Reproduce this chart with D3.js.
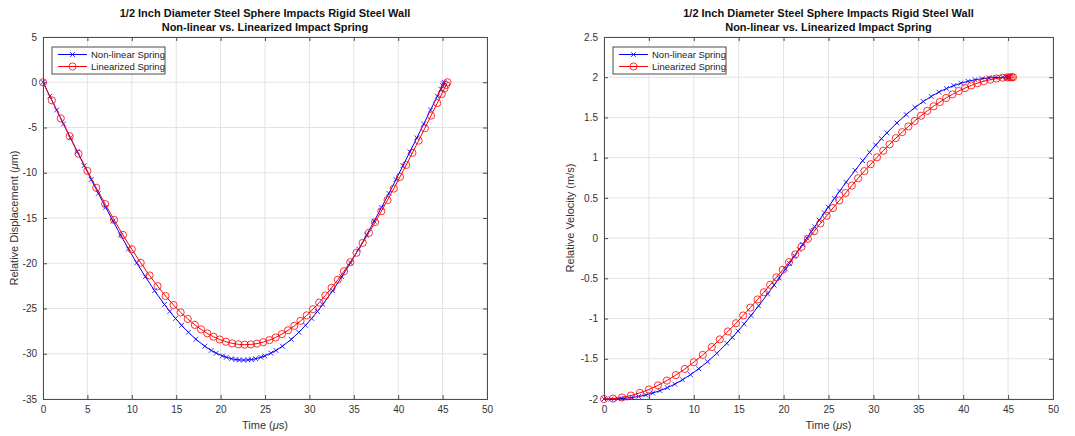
<!DOCTYPE html>
<html><head><meta charset="utf-8">
<script src="https://cdn.jsdelivr.net/npm/d3@7"></script>
<style>body{margin:0;background:#fff}svg{display:block}text{font-family:"Liberation Sans",Arial,Helvetica,sans-serif}</style>
</head><body>
<script>
// ---------- data ----------
const titleLines = ["1/2 Inch Diameter Steel Sphere Impacts Rigid Steel Wall", "Non-linear vs. Linearized Impact Spring"];
const seriesNames = ["Non-linear Spring", "Linearized Spring"];
const xTicks = [0,5,10,15,20,25,30,35,40,45,50];
const dispTicks = [5,0,-5,-10,-15,-20,-25,-30,-35];
const velTicks = [2.5,2,1.5,1,0.5,0,-0.5,-1,-1.5,-2];
const velTickLabels = ["2.5","2","1.5","1","0.5","0","-0.5","-1","-1.5","-2"];

// Non-linear spring (blue, x markers)
const tNonlinear = [0,0.77,1.54,2.31,3.08,3.86,4.64,5.43,6.23,7.05,7.89,8.74,9.63,10.55,11.53,12.56,13.68,14.28,14.92,15.61,16.37,17.22,18.22,18.94,19.51,20.21,20.65,21.22,21.72,22.10,22.59,23.08,23.46,23.96,24.53,24.97,25.67,26.24,26.96,27.96,28.81,29.57,30.26,30.90,31.50,32.62,33.65,34.63,35.55,36.44,37.29,38.13,38.95,39.75,40.54,41.32,42.10,42.87,43.64,44.41,44.80,45.00,45.10,45.18];
const dispNonlinear = [0,-1.54,-3.07,-4.61,-6.14,-7.68,-9.21,-10.75,-12.28,-13.82,-15.35,-16.89,-18.42,-19.96,-21.49,-23.03,-24.56,-25.33,-26.10,-26.86,-27.63,-28.40,-29.17,-29.63,-29.93,-30.24,-30.39,-30.55,-30.64,-30.68,-30.70,-30.68,-30.64,-30.55,-30.39,-30.24,-29.93,-29.63,-29.17,-28.40,-27.63,-26.86,-26.10,-25.33,-24.56,-23.03,-21.49,-19.96,-18.42,-16.89,-15.35,-13.82,-12.28,-10.75,-9.21,-7.68,-6.14,-4.61,-3.07,-1.54,-0.76,-0.36,-0.16,0];
const velNonlinear = [-2,-1.999,-1.997,-1.991,-1.982,-1.969,-1.950,-1.926,-1.896,-1.859,-1.815,-1.761,-1.698,-1.624,-1.536,-1.432,-1.308,-1.236,-1.156,-1.066,-0.962,-0.842,-0.694,-0.584,-0.495,-0.385,-0.315,-0.223,-0.141,-0.080,0,0.080,0.141,0.223,0.315,0.385,0.495,0.584,0.694,0.842,0.962,1.066,1.156,1.236,1.308,1.432,1.536,1.624,1.698,1.761,1.815,1.859,1.896,1.926,1.950,1.969,1.982,1.991,1.997,1.999,2.0,2.0,2.0,2.0];

// Linearized spring (red, circle markers)
const tLinear = [0,1,2,3,4,5,6,7,8,9,10,11,12,12.9,13.8,14.7,15.5,16.3,17.1,17.8,18.5,19.2,19.9,20.6,21.3,22.0,22.7,23.4,24.1,24.8,25.5,26.2,26.9,27.6,28.3,29.0,29.7,30.4,31.1,31.8,32.5,33.2,33.9,34.6,35.3,36.0,36.7,37.4,38.1,38.8,39.5,40.2,40.9,41.6,42.3,43.0,43.7,44.4,44.9,45.2,45.4,45.55];
const dispLinear = [0,-2.00,-3.99,-5.96,-7.90,-9.80,-11.66,-13.46,-15.20,-16.87,-18.45,-19.95,-21.35,-22.53,-23.62,-24.62,-25.43,-26.16,-26.81,-27.31,-27.75,-28.12,-28.43,-28.67,-28.85,-28.96,-29.00,-28.97,-28.88,-28.72,-28.49,-28.20,-27.83,-27.41,-26.92,-26.37,-25.76,-25.08,-24.35,-23.56,-22.72,-21.82,-20.88,-19.88,-18.84,-17.75,-16.63,-15.46,-14.25,-13.02,-11.75,-10.46,-9.14,-7.80,-6.45,-5.08,-3.69,-2.30,-1.30,-0.70,-0.30,0];
const velLinear = [-2,-1.995,-1.981,-1.957,-1.924,-1.882,-1.831,-1.771,-1.703,-1.627,-1.543,-1.452,-1.354,-1.259,-1.160,-1.058,-0.962,-0.864,-0.763,-0.673,-0.581,-0.488,-0.394,-0.299,-0.203,-0.107,-0.010,0.086,0.183,0.278,0.374,0.468,0.561,0.653,0.744,0.833,0.919,1.004,1.086,1.166,1.243,1.317,1.388,1.456,1.521,1.582,1.639,1.692,1.742,1.787,1.828,1.865,1.898,1.926,1.950,1.969,1.984,1.994,1.998,1.999,2.0,2.0];

// ---------- drawing ----------
const W = 1075, H = 436;
const svg = d3.select("body").append("svg").attr("width", W).attr("height", H);
const blue = "#0000ff", red = "#ff0000";
const axisCol = "#4d4d4d", gridCol = "#e3e3e3", textCol = "#333";

const panels = [
  {x0: 43, x1: 487, yDomain: [-35, 5], yTicks: dispTicks, yLabels: dispTicks.map(String),
   ylabel: ["Relative Displacement (", "μ", "m)"], ylx: 18,
   s: [{t: tNonlinear, y: dispNonlinear}, {t: tLinear, y: dispLinear}]},
  {x0: 604, x1: 1053, yDomain: [-2, 2.5], yTicks: velTicks, yLabels: velTickLabels,
   ylabel: ["Relative Velocity (m/s)"], ylx: 574,
   s: [{t: tNonlinear, y: velNonlinear}, {t: tLinear, y: velLinear}]}
];
const y0 = 37, y1 = 399;

panels.forEach(p => {
  const x = d3.scaleLinear().domain([0, 50]).range([p.x0, p.x1]);
  const y = d3.scaleLinear().domain(p.yDomain).range([y1, y0]);
  const g = svg.append("g");

  // grid
  g.selectAll(".gx").data(xTicks).enter().append("line")
    .attr("x1", d => x(d)).attr("x2", d => x(d)).attr("y1", y0).attr("y2", y1)
    .attr("stroke", gridCol).attr("stroke-width", 1);
  g.selectAll(".gy").data(p.yTicks).enter().append("line")
    .attr("x1", p.x0).attr("x2", p.x1).attr("y1", d => y(d)).attr("y2", d => y(d))
    .attr("stroke", gridCol).attr("stroke-width", 1);

  // axes (ticks inside, all four sides)
  const tl = 4;
  const ax = g.append("g").attr("transform", `translate(0,${y1})`)
    .call(d3.axisBottom(x).tickValues(xTicks).tickSize(-tl).tickPadding(7).tickFormat(d3.format("d")));
  const axT = g.append("g").attr("transform", `translate(0,${y0})`)
    .call(d3.axisTop(x).tickValues(xTicks).tickSize(-tl).tickFormat(""));
  const ay = g.append("g").attr("transform", `translate(${p.x0},0)`)
    .call(d3.axisLeft(y).tickValues(p.yTicks).tickSize(-tl).tickPadding(6).tickFormat((d, i) => p.yLabels[i]));
  const ayR = g.append("g").attr("transform", `translate(${p.x1},0)`)
    .call(d3.axisRight(y).tickValues(p.yTicks).tickSize(-tl).tickFormat(""));
  [ax, axT, ay, ayR].forEach(a => {
    a.select(".domain").attr("stroke", axisCol);
    a.selectAll(".tick line").attr("stroke", axisCol);
    a.selectAll("text").attr("fill", textCol).style("font-size", "10px")
      .style("font-family", '"Liberation Sans", Arial, sans-serif');
  });

  // titles
  titleLines.forEach((tt, i) => {
    svg.append("text").attr("x", (p.x0 + p.x1) / 2).attr("y", 17 + i * 13.5)
      .attr("text-anchor", "middle").style("font-weight", "bold").style("font-size", "11px")
      .attr("fill", "#111").text(tt);
  });

  // x label
  const xl = svg.append("text").attr("x", (p.x0 + p.x1) / 2).attr("y", 429)
    .attr("text-anchor", "middle").style("font-size", "11px").attr("fill", textCol);
  xl.append("tspan").text("Time (");
  xl.append("tspan").style("font-style", "italic").text("μ");
  xl.append("tspan").text("s)");

  // y label
  const yl = svg.append("text").attr("transform", `translate(${p.ylx},${(y0 + y1) / 2}) rotate(-90)`)
    .attr("text-anchor", "middle").style("font-size", "11px").attr("fill", textCol);
  p.ylabel.forEach((part, i) => {
    const ts = yl.append("tspan").text(part);
    if (part === "μ") ts.style("font-style", "italic");
  });

  const line = d3.line().x(d => x(d[0])).y(d => y(d[1]));
  const clip = g.append("g");

  // series 0: blue x markers
  const b = p.s[0], bp = b.t.map((t, i) => [t, b.y[i]]);
  clip.append("path").datum(bp).attr("d", line).attr("fill", "none").attr("stroke", blue).attr("stroke-width", 1);
  const r = 2.4;
  clip.selectAll(".mx").data(bp).enter().append("path")
    .attr("d", d => `M${x(d[0]) - r},${y(d[1]) - r}L${x(d[0]) + r},${y(d[1]) + r}M${x(d[0]) - r},${y(d[1]) + r}L${x(d[0]) + r},${y(d[1]) - r}`)
    .attr("stroke", blue).attr("stroke-width", 0.8).attr("fill", "none");

  // series 1: red circle markers
  const rr = p.s[1], rp = rr.t.map((t, i) => [t, rr.y[i]]);
  clip.append("path").datum(rp).attr("d", line).attr("fill", "none").attr("stroke", red).attr("stroke-width", 1);
  clip.selectAll(".mo").data(rp).enter().append("circle")
    .attr("cx", d => x(d[0])).attr("cy", d => y(d[1])).attr("r", 3.6)
    .attr("fill", "none").attr("stroke", red).attr("stroke-width", 0.8);

  // legend
  const lx = p.x0 + 9, ly = y0 + 10;
  const lg = svg.append("g");
  lg.append("rect").attr("x", lx).attr("y", ly).attr("width", 113).attr("height", 27)
    .attr("fill", "#fff").attr("stroke", axisCol).attr("stroke-width", 1);
  [[blue, "x"], [red, "o"]].forEach((c, i) => {
    const yy = ly + 7.5 + i * 12;
    lg.append("line").attr("x1", lx + 6).attr("x2", lx + 35).attr("y1", yy).attr("y2", yy)
      .attr("stroke", c[0]).attr("stroke-width", 1);
    const cx = lx + 20.5;
    if (c[1] === "x") {
      lg.append("path").attr("d", `M${cx - r},${yy - r}L${cx + r},${yy + r}M${cx - r},${yy + r}L${cx + r},${yy - r}`)
        .attr("stroke", c[0]).attr("stroke-width", 0.8);
    } else {
      lg.append("circle").attr("cx", cx).attr("cy", yy).attr("r", 3.6).attr("fill", "none")
        .attr("stroke", c[0]).attr("stroke-width", 0.8);
    }
    lg.append("text").attr("x", lx + 39).attr("y", yy + 3.3).style("font-size", "9.5px")
      .attr("fill", "#222").text(seriesNames[i]);
  });
});
</script>
</body></html>
